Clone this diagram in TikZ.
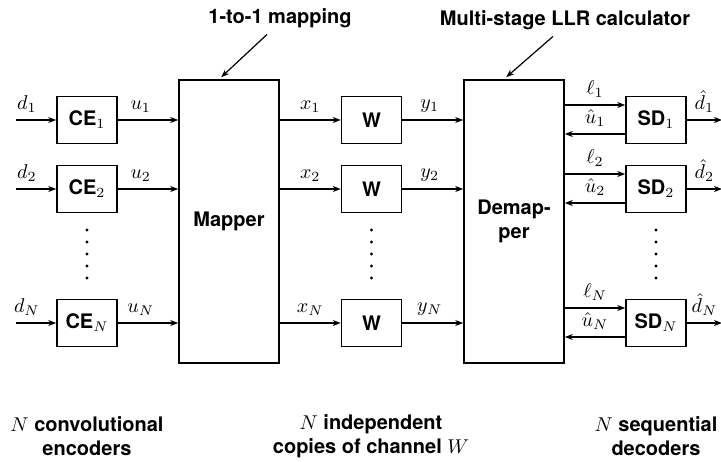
\documentclass[tikz,border=0pt]{standalone}
\usepackage{amsmath}
\usepackage{amssymb}
\usepackage{fontspec}
\setsansfont{TeX Gyre Heros}
\usepackage{tikz}
\usetikzlibrary{arrows.meta}

\begin{document}
\begin{tikzpicture}[x=0.5pt, y=-0.5pt, font=\sffamily\bfseries,
    box/.style={shape=rectangle, draw=black, line width=0.8pt, minimum width=30pt, minimum height=23.5pt, inner sep=0pt},
    bigbox/.style={shape=rectangle, draw=black, line width=0.8pt, minimum width=50pt, minimum height=141.5pt, align=center},
    sig/.style={-{Stealth[length=4pt,width=3pt,inset=1.2pt]}, line width=0.6pt}]
        \useasboundingbox (0,0) rectangle (721,461);
        % encoders, mapper, channels, demapper, decoders
        \node[box] (CE1) at (87,120) {CE$_1$};
        \node[box] (CE2) at (87,189) {CE$_2$};
        \node[box] (CEN) at (87,323) {CE$_N$};
        \node[bigbox] (M) at (229,221.5) {Mapper};
        \node[box] (W1) at (371.5,120) {W};
        \node[box] (W2) at (371.5,189) {W};
        \node[box] (WN) at (371.5,323) {W};
        \node[bigbox] (D) at (514,221.5) {Demap-\\per};
        \node[box] (SD1) at (656,120) {SD$_1$};
        \node[box] (SD2) at (656,189) {SD$_2$};
        \node[box] (SDN) at (656,323) {SD$_N$};

        \coordinate (in1) at (16,120);
        \coordinate (in2) at (16,189);
        \coordinate (inN) at (16,323);
        \coordinate (out1) at (722,120);
        \coordinate (out2) at (722,189);
        \coordinate (outN) at (722,323);
        \coordinate (l1) at ([yshift=7.5pt]SD1.west);
        \coordinate (l2) at ([yshift=7.5pt]SD2.west);
        \coordinate (lN) at ([yshift=7.5pt]SDN.west);
        \coordinate (h1) at ([yshift=-7pt]SD1.west);
        \coordinate (h2) at ([yshift=-7pt]SD2.west);
        \coordinate (hN) at ([yshift=-7pt]SDN.west);

        \draw[sig] (in1) -- (CE1) node[pos=0.27, above] {$d_1$};
        \draw[sig] (in2) -- (CE2) node[pos=0.27, above] {$d_2$};
        \draw[sig] (inN) -- (CEN) node[pos=0.27, above] {$d_N$};
        \draw[sig] (CE1) -- (CE1 -| M.west) node[pos=0.38, above] {$u_1$};
        \draw[sig] (CE2) -- (CE2 -| M.west) node[pos=0.38, above] {$u_2$};
        \draw[sig] (CEN) -- (CEN -| M.west) node[pos=0.38, above] {$u_N$};
        \draw[sig] (W1 -| M.east) -- (W1) node[midway, above] {$x_1$};
        \draw[sig] (W2 -| M.east) -- (W2) node[midway, above] {$x_2$};
        \draw[sig] (WN -| M.east) -- (WN) node[midway, above] {$x_N$};
        \draw[sig] (W1) -- (W1 -| D.west) node[pos=0.45, above] {$y_1$};
        \draw[sig] (W2) -- (W2 -| D.west) node[pos=0.45, above] {$y_2$};
        \draw[sig] (WN) -- (WN -| D.west) node[pos=0.45, above] {$y_N$};
        \draw[sig] (l1 -| D.east) -- (l1) node[midway, above] {$\ell_1$};
        \draw[sig] (l2 -| D.east) -- (l2) node[midway, above] {$\ell_2$};
        \draw[sig] (lN -| D.east) -- (lN) node[midway, above] {$\ell_N$};
        \draw[sig] (h1) -- (h1 -| D.east) node[midway, above] {$\hat{u}_1$};
        \draw[sig] (h2) -- (h2 -| D.east) node[midway, above] {$\hat{u}_2$};
        \draw[sig] (hN) -- (hN -| D.east) node[midway, above] {$\hat{u}_N$};
        \draw[sig] (SD1) -- (out1) node[midway, above] {$\hat{d}_1$};
        \draw[sig] (SD2) -- (out2) node[midway, above] {$\hat{d}_2$};
        \draw[sig] (SDN) -- (outN) node[midway, above] {$\hat{d}_N$};

        \foreach \y in {230,242,...,278} {
            \fill (87,\y) circle[radius=0.8pt];
            \fill (371.5,\y) circle[radius=0.8pt];
            \fill (656,\y) circle[radius=0.8pt];
        }

        % annotations
        \node[anchor=base] (Mlab) at (280,23) {1-to-1 mapping};
        \node[anchor=base] (Dlab) at (565,25) {Multi-stage LLR calculator};
        \draw[sig] ([xshift=-6.5pt]Mlab.south) -- ([xshift=21.5pt, yshift=1pt]M.north west);
        \draw[sig] ([xshift=-6pt]Dlab.south) -- ([xshift=21.5pt, yshift=1pt]D.north west);

        \node[align=center] (CElab) at (87,436) {$N$ convolutional\\encoders};
        \node[align=center] (Wlab) at (371,436) {$N$ independent\\copies of channel $W$};
        \node[align=center] (SDlab) at (656,436) {$N$ sequential\\decoders};
    \end{tikzpicture}
\end{document}
